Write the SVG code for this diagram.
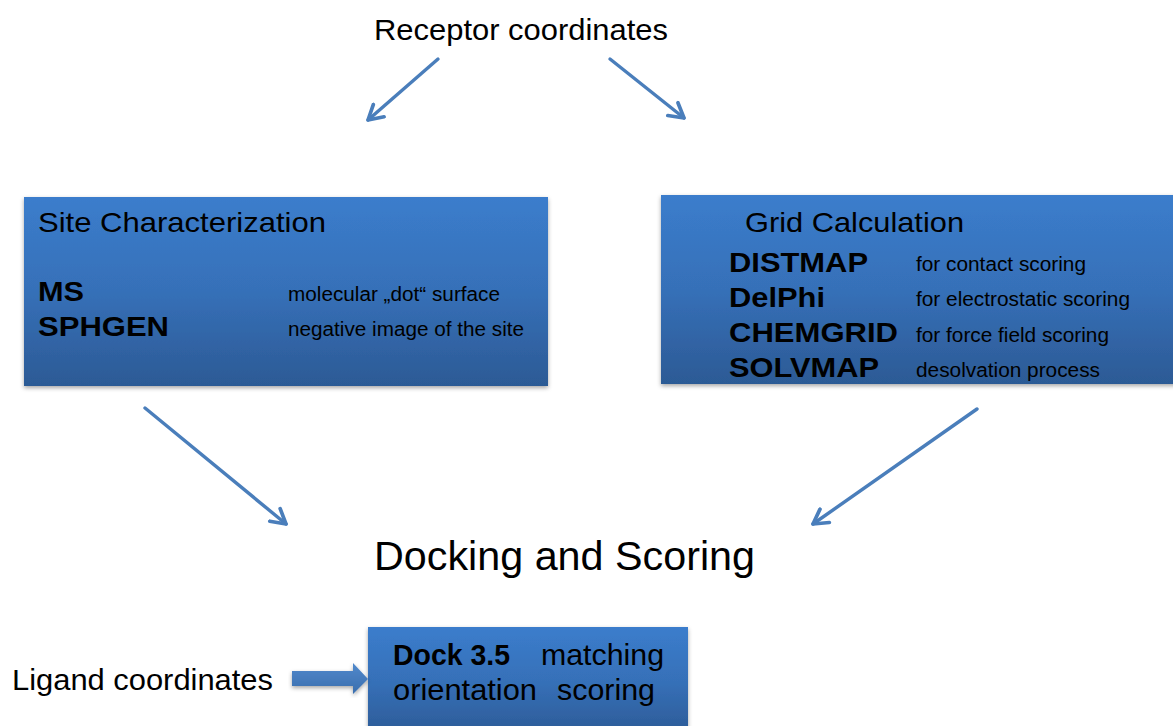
<svg xmlns="http://www.w3.org/2000/svg" width="1173" height="726" viewBox="0 0 1173 726">
<defs>
<linearGradient id="bg" x1="0" y1="0" x2="0" y2="1">
<stop offset="0" stop-color="#3b7dcc"/>
<stop offset="0.5" stop-color="#3670b8"/>
<stop offset="1" stop-color="#2c5a95"/>
</linearGradient>
<linearGradient id="ag" x1="0" y1="0" x2="0" y2="1">
<stop offset="0" stop-color="#5189cc"/>
<stop offset="1" stop-color="#3a6eae"/>
</linearGradient>
<filter id="sh" x="-5%" y="-5%" width="110%" height="115%">
<feDropShadow dx="0" dy="2" stdDeviation="2" flood-color="#000" flood-opacity="0.35"/>
</filter>
<marker id="ah" viewBox="0 0 10 10" refX="8" refY="5" markerWidth="6" markerHeight="6" orient="auto" markerUnits="strokeWidth">
<path d="M1,1 L8,5 L1,9" fill="none" stroke="#4a7ebb" stroke-width="1.8" stroke-linecap="round" stroke-linejoin="round"/>
</marker>
</defs>
<style>
text{font-family:"Liberation Sans",Arial,sans-serif;fill:#000}
.b{font-weight:bold}
.conn{stroke:#4a7ebb;stroke-width:3.4;fill:none;stroke-linecap:round}
.box{fill:url(#bg);filter:url(#sh)}
</style>
<rect width="1173" height="726" fill="#fff"/>
<g id="receptor"><text x="374" y="40" font-size="29" textLength="294" lengthAdjust="spacingAndGlyphs">Receptor coordinates</text></g>
<g id="site">
<rect class="box" x="24" y="197" width="524" height="189"/>
<text x="38" y="232" font-size="28" textLength="288" lengthAdjust="spacingAndGlyphs">Site Characterization</text>
<text x="38" y="301" font-size="27" class="b" textLength="46" lengthAdjust="spacingAndGlyphs">MS</text>
<text x="38" y="336" font-size="27" class="b" textLength="131" lengthAdjust="spacingAndGlyphs">SPHGEN</text>
<text x="288" y="301" font-size="20" textLength="212" lengthAdjust="spacingAndGlyphs">molecular „dot“ surface</text>
<text x="288" y="336" font-size="20" textLength="236" lengthAdjust="spacingAndGlyphs">negative image of the site</text>
</g>
<g id="grid">
<rect class="box" x="661" y="195" width="520" height="189"/>
<text x="745" y="232" font-size="28" textLength="219" lengthAdjust="spacingAndGlyphs">Grid Calculation</text>
<text x="729" y="272" font-size="28" class="b" textLength="139" lengthAdjust="spacingAndGlyphs">DISTMAP</text>
<text x="729" y="307" font-size="28" class="b" textLength="96" lengthAdjust="spacingAndGlyphs">DelPhi</text>
<text x="729" y="342" font-size="28" class="b" textLength="169" lengthAdjust="spacingAndGlyphs">CHEMGRID</text>
<text x="729" y="377" font-size="28" class="b" textLength="150" lengthAdjust="spacingAndGlyphs">SOLVMAP</text>
<text x="916" y="271" font-size="20" textLength="170" lengthAdjust="spacingAndGlyphs">for contact scoring</text>
<text x="916" y="306" font-size="20" textLength="214" lengthAdjust="spacingAndGlyphs">for electrostatic scoring</text>
<text x="916" y="342" font-size="20" textLength="193" lengthAdjust="spacingAndGlyphs">for force field scoring</text>
<text x="916" y="377" font-size="20" textLength="184" lengthAdjust="spacingAndGlyphs">desolvation process</text>
</g>
<g id="docking"><text x="374" y="570" font-size="40" textLength="381" lengthAdjust="spacingAndGlyphs">Docking and Scoring</text></g>
<g id="dock">
<rect class="box" x="368" y="627" width="320" height="110"/>
<text x="393" y="665" font-size="29" class="b" textLength="117" lengthAdjust="spacingAndGlyphs">Dock 3.5</text>
<text x="541" y="665" font-size="29" textLength="123" lengthAdjust="spacingAndGlyphs">matching</text>
<text x="393" y="700" font-size="29" textLength="144" lengthAdjust="spacingAndGlyphs">orientation</text>
<text x="557" y="700" font-size="29" textLength="98" lengthAdjust="spacingAndGlyphs">scoring</text>
</g>
<g id="ligand"><text x="12" y="690" font-size="29" textLength="261" lengthAdjust="spacingAndGlyphs">Ligand coordinates</text></g>
<g id="connectors">
<line class="conn" x1="438" y1="59" x2="368" y2="120" marker-end="url(#ah)"/>
<line class="conn" x1="610" y1="59" x2="684" y2="118" marker-end="url(#ah)"/>
<line class="conn" x1="145" y1="408" x2="286" y2="524" marker-end="url(#ah)"/>
<line class="conn" x1="977" y1="409" x2="813" y2="524" marker-end="url(#ah)"/>
<path d="M292,671 L353,671 L353,663 L368,679 L353,694 L353,686 L292,686 Z" fill="url(#ag)" filter="url(#sh)"/>
</g>
</svg>
